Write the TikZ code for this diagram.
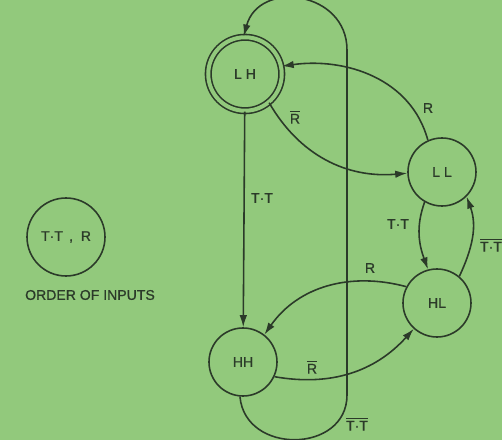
\documentclass[tikz,border=0pt]{standalone}
\usepackage{fontspec}
\newfontfamily\diagfont{Liberation Sans}[FakeBold=0.8]
\usepackage{xcolor}
\usepackage{tikz}
\usetikzlibrary{arrows.meta}
\definecolor{sheet}{HTML}{92C97C}
\definecolor{sink}{HTML}{2B3A29}
\newcommand{\barR}{$\overline{\mbox{R}}$}
\newcommand{\barTT}{$\overline{\mbox{T·T}}$}

\begin{document}
\begin{tikzpicture}[every node/.style={font=\diagfont\footnotesize,text=sink},
  state/.style={circle,draw=sink,line width=0.9pt,minimum size=1.36cm,inner sep=0pt},
  edge/.style={draw=sink,line width=0.9pt,-{Latex[length=2.4mm,width=1.5mm]}}]
  \useasboundingbox (0,0) rectangle (10.04,8.8);
  \clip (0,0) rectangle (10.04,8.8);
  \fill[sheet] (0,0) rectangle (10.04,8.8);

  % states
  \node[state,double=sheet,double distance=0.08cm,minimum size=1.47cm] (lh) at (4.9,7.32) {L H};
  \node[state] (ll) at (8.84,5.36) {L L};
  \node[state] (hl) at (8.74,2.74) {HL};
  \node[state] (hh) at (4.86,1.56) {HH};

  % legend
  \node[state,minimum size=1.56cm] (legend) at (1.32,4.06) {T·T\,\ , \ R};
  \node (order) at (1.8,2.9) {ORDER OF INPUTS};

  % transitions
  \draw[edge] (lh) -- (hh);
  \draw[edge] (ll.114) to[out=105,in=8] (lh.12);
  \draw[edge] (lh.-50) to[out=-60,in=185] (ll.182);
  \draw[edge] (ll.240) to[out=250,in=110] (hl.105);
  \draw[edge] (hl.50) to[out=65,in=-70] (ll.-45);
  \draw[edge] (hl.152) to[out=165,in=55] (hh.52);
  \draw[edge] (hh.-25) to[out=-10,in=228] (hl.228);
  \coordinate (loopbot) at (6.94,0.9);
  \coordinate (looptop) at (6.94,7.8);
  \draw[edge] (hh.265) to[out=-85,in=-90,looseness=1.4] (loopbot) -- (looptop)
    to[out=90,in=75,looseness=1.45] (lh.92);

  % labels
  \node (tt1) at (5.24,4.84) {T·T};
  \node (r1) at (8.56,6.64) {R};
  \node (nr1) at (5.9,6.46) {\barR};
  \node (tt2) at (7.96,4.32) {T·T};
  \node (ntt1) at (9.82,3.9) {\barTT};
  \node (r2) at (7.4,3.44) {R};
  \node (nr2) at (6.24,1.46) {\barR};
  \node (ntt2) at (7.14,0.32) {\barTT};
\end{tikzpicture}
\end{document}
